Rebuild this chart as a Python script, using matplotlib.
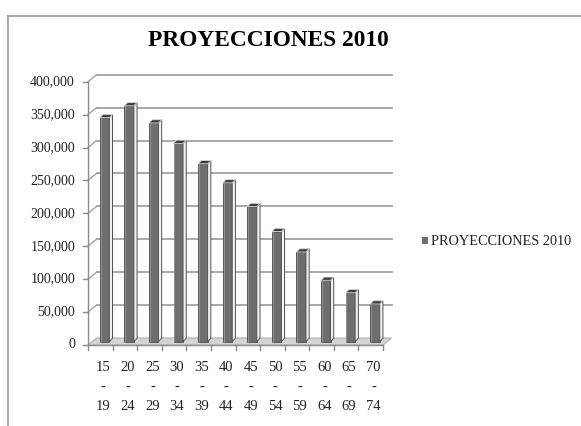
import matplotlib
matplotlib.use("Agg")
import matplotlib.pyplot as plt
from matplotlib.patches import Polygon, Rectangle
from matplotlib.lines import Line2D

categories = ["15\n-\n19", "20\n-\n24", "25\n-\n29", "30\n-\n34", "35\n-\n39", "40\n-\n44",
              "45\n-\n49", "50\n-\n54", "55\n-\n59", "60\n-\n64", "65\n-\n69", "70\n-\n74"]
values = [340000, 358000, 332000, 301000, 270000, 241000, 205000, 167000, 136000, 93000, 74000, 57000]
yticks = [0, 50000, 100000, 150000, 200000, 250000, 300000, 350000, 400000]
series_name = "PROYECCIONES 2010"
title = "PROYECCIONES 2010"

W, H = 581, 426
DPI = 100
fig = plt.figure(figsize=(W / DPI, H / DPI), dpi=DPI)
plt.rcParams['font.family'] = ['Liberation Serif', 'DejaVu Serif']

# chart frame
frame = fig.add_axes([0, 0, 1, 1])
frame.set_xlim(0, W); frame.set_ylim(H, 0); frame.axis('off')
frame.add_line(Line2D([7.5, W], [15.5, 15.5], color='#9a9a9a', lw=1.2))
frame.add_line(Line2D([7.5, 7.5], [15.5, H], color='#9a9a9a', lw=1.2))
frame.text(268, 41, title, ha='center', va='center', fontsize=16.8, fontweight='bold', color='black')

# plot area (front plane)
x0, x1 = 88, 383
y0, ytop = 345, 81.7
ax = fig.add_axes([x0 / W, (H - y0) / H, (x1 - x0) / W, (y0 - ytop) / H])
n = len(values)
ax.set_xlim(0, n)
ax.set_ylim(0, 400000)
ax.axis('off')

pxx = (x1 - x0) / n           # px per slot
pxy = (y0 - ytop) / 400000    # px per value unit
def dxp(p): return p / pxx
def dyp(p): return p / pxy

DX, DY = 8.5, 7.0  # depth offset in px
# floor
floor = Polygon([(0, 0), (n, 0), (n + dxp(DX), dyp(DY)), (dxp(DX), dyp(DY))],
                closed=True, facecolor='#d4d4d4', edgecolor='#b0b0b0', lw=0.8, clip_on=False, zorder=1)
ax.add_patch(floor)
# back wall & side wall gridlines
for v in yticks[1:]:
    ax.add_line(Line2D([dxp(DX), n + dxp(DX)], [v + dyp(DY), v + dyp(DY)], color='#a3a3a3', lw=1.3,
                       clip_on=False, zorder=0.5))
    ax.add_line(Line2D([0, dxp(DX)], [v, v + dyp(DY)], color='#a3a3a3', lw=1.0, clip_on=False, zorder=0.5))
# left axis
ax.add_line(Line2D([0, 0], [0, 400000], color='#8a8a8a', lw=1.0, clip_on=False, zorder=2))
for v in yticks:
    ax.add_line(Line2D([-dxp(5), 0], [v, v], color='#8a8a8a', lw=1.0, clip_on=False, zorder=2))
    ax.text(-dxp(13), v, f"{v:,}", ha='right', va='center', fontsize=10, color='#222222')
# front floor edge and ticks
ax.add_line(Line2D([0, n], [0, 0], color='#8a8a8a', lw=1.0, clip_on=False, zorder=2))
for i in range(n + 1):
    ax.add_line(Line2D([i, i], [0, -dyp(5)], color='#8a8a8a', lw=1.0, clip_on=False, zorder=2))
for i, lab in enumerate(categories):
    ax.text(i + 0.62, -dyp(16), lab, ha='center', va='top', fontsize=10.5, color='#222222',
            linespacing=1.65)

# 3D-style bars
bw = dxp(9.5)
side = 3.2
mid_x, mid_y = dxp(DX / 2), dyp(DY / 2)
centers = [i + 0.5 for i in range(n)]
bars = ax.bar([c + mid_x for c in centers], values, width=bw, bottom=mid_y,
              color='#6e6e6e', edgecolor='#4a4a4a', linewidth=0.6, zorder=3, clip_on=False)
for b, v in zip(bars, values):
    xl = b.get_x(); xr = xl + b.get_width()
    yb = b.get_y(); yt = yb + v
    sd = Polygon([(xr, yb), (xr + dxp(side), yb + dyp(side)), (xr + dxp(side), yt + dyp(side)), (xr, yt)],
                 closed=True, facecolor='#f2f2f2', edgecolor='#505050', lw=0.7, zorder=3, clip_on=False)
    tp = Polygon([(xl, yt), (xl + dxp(side), yt + dyp(side)), (xr + dxp(side), yt + dyp(side)), (xr, yt)],
                 closed=True, facecolor='#3c3c3c', edgecolor='#d8d8d8', lw=0.6, zorder=3.5, clip_on=False)
    ax.add_patch(sd); ax.add_patch(tp)
    ax.add_line(Line2D([xl + dxp(0.8), xl + dxp(0.8)], [yb, yt], color='#9a9a9a', lw=0.6, zorder=3.6))

# legend
frame.add_patch(Rectangle((422, 237), 6, 7, facecolor='#707070', edgecolor='none'))
frame.text(431, 241.5, series_name, ha='left', va='center', fontsize=10.3, color='#222222')

fig.savefig("out.png", dpi=DPI)
